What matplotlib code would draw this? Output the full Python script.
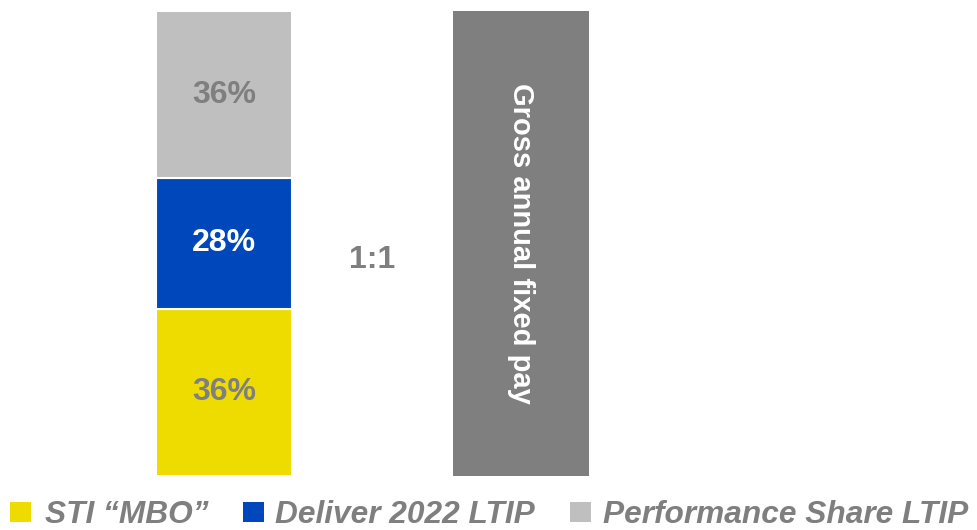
import matplotlib.pyplot as plt
from matplotlib.patches import Rectangle

plt.rcParams['font.family'] = ['Liberation Sans', 'DejaVu Sans']

# pay mix shares (stacked, bottom to top) and the fixed pay reference bar
components = ['STI \u201cMBO\u201d', 'Deliver 2022 LTIP', 'Performance Share LTIP']
shares = [36, 28, 36]
fixed_pay = 100
fixed_label = 'Gross annual fixed pay'
ratio_text = '1:1'

seg_colors = ['#EEDC00', '#0047BB', '#BFBFBF']
label_colors = ['#7F7F7F', 'white', '#7F7F7F']
fixed_color = '#7F7F7F'
text_grey = '#7F7F7F'

W, H = 978, 530
fig = plt.figure(figsize=(W / 100, H / 100), dpi=100)
ax = fig.add_axes([0.0772, 0.1019, 0.6074, 0.8774])

width = 0.458
bottom = 0
for val, col, lc in zip(shares, seg_colors, label_colors):
    ax.bar(0, val, width=width, bottom=bottom, color=col,
           edgecolor='white', linewidth=1.5)
    ax.text(0, bottom + val / 2, f'{val}%', ha='center', va='center',
            fontsize=23, fontweight='bold', color=lc)
    bottom += val

ax.bar(1, fixed_pay, width=width, color=fixed_color, edgecolor='none')
ax.text(1, fixed_pay / 2, fixed_label, rotation=-90, ha='center', va='center',
        fontsize=21, fontweight='bold', color='white')

ax.text(0.5, 46.5, ratio_text, ha='center', va='center', fontsize=23,
        fontweight='bold', color=text_grey)

ax.set_xlim(-0.5, 1.5)
ax.set_ylim(0, 100)
ax.axis('off')

# legend row along the bottom edge: square swatch then italic label
swatch_x = [10, 243, 570]
label_x = [45, 275, 603]
for sx, tx, col, name in zip(swatch_x, label_x, seg_colors, components):
    fig.add_artist(Rectangle((sx / W, 8 / H), 21 / W, 20 / H,
                             transform=fig.transFigure, facecolor=col,
                             edgecolor='none'))
    fig.text(tx / W, 7 / H, name, ha='left', va='baseline', fontsize=22.8,
             fontweight='bold', fontstyle='italic', color=text_grey)

fig.savefig('out.png', dpi=100)
